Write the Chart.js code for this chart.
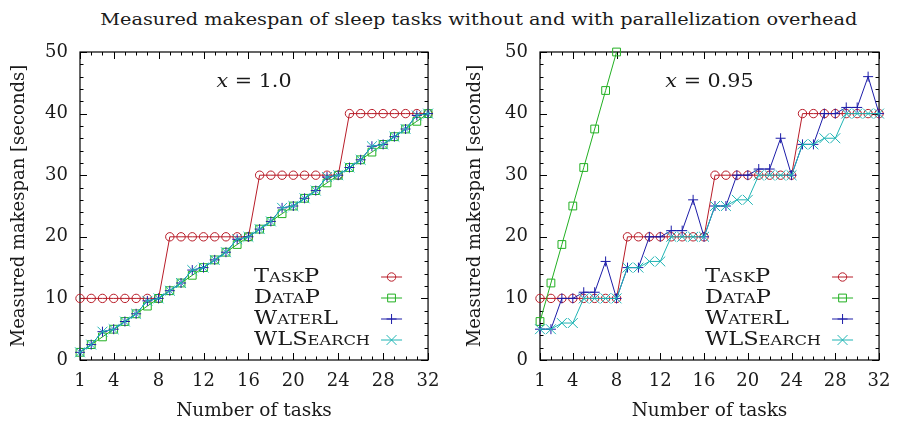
<!DOCTYPE html>
<html>
<head>
<meta charset="utf-8">
<script src="https://cdn.jsdelivr.net/npm/chart.js@4.4.0/dist/chart.umd.min.js"></script>
<style>
  body { margin: 0; background: #fff; width: 901px; height: 423px; position: relative; overflow: hidden; }
  #title { position: absolute; top: 8px; left: 100px; width: 757px; text-align: center;
           font: 17.5px "DejaVu Serif"; color: #1a1a1a; line-height: 22px; white-space: nowrap; }
  #title span { display: inline-block; transform-origin: center; }
  .box { position: absolute; top: 0; height: 423px; }
</style>
</head>
<body>
<div id="title"><span>Measured makespan of sleep tasks without and with parallelization overhead</span></div>
<div class="box" style="left:0;width:450px"><canvas id="leftChart" width="450" height="423"></canvas></div>
<div class="box" style="left:456px;width:445px"><canvas id="rightChart" width="445" height="423"></canvas></div>
<script>
// === Data ===
const tasks = [1, 2, 3, 4, 5, 6, 7, 8, 9, 10, 11, 12, 13, 14, 15, 16,
               17, 18, 19, 20, 21, 22, 23, 24, 25, 26, 27, 28, 29, 30, 31, 32];
const seriesNames = ["TaskP", "DataP", "WaterL", "WLSearch"];
const xTicks = [1, 4, 8, 12, 16, 20, 24, 28, 32];
const yTicks = [0, 10, 20, 30, 40, 50];
const xMinorStep = 1;
const yMinorStep = 2;

// x = 1.0
const taskP1 = [10, 10, 10, 10, 10, 10, 10, 10, 20, 20, 20, 20, 20, 20, 20, 20,
                30, 30, 30, 30, 30, 30, 30, 30, 40, 40, 40, 40, 40, 40, 40, 40];
const dataP1 = [1.25, 2.5, 3.75, 5, 6.25, 7.5, 8.75, 10, 11.25, 12.5, 13.75, 15, 16.25, 17.5, 18.75, 20,
                21.25, 22.5, 23.75, 25, 26.25, 27.5, 28.75, 30, 31.25, 32.5, 33.75, 35, 36.25, 37.5, 38.75, 40];
const waterL1 = [1.25, 2.5, 4.6, 5, 6.25, 7.5, 9.6, 10, 11.25, 12.5, 14.6, 15, 16.25, 17.5, 19.6, 20,
                 21.25, 22.5, 24.7, 25, 26.25, 27.5, 29.7, 30, 31.25, 32.5, 34.7, 35, 36.25, 37.5, 39.7, 40];
const wlSearch1 = [1.25, 2.5, 4.6, 5, 6.25, 7.5, 9.6, 10, 11.25, 12.5, 14.6, 15, 16.25, 17.5, 19.6, 20,
                   21.25, 22.5, 24.7, 25, 26.25, 27.5, 29.7, 30, 31.25, 32.5, 34.7, 35, 36.25, 37.5, 39.7, 40];

// x = 0.95
const taskP2 = [10, 10, 10, 10, 10, 10, 10, 10, 20, 20, 20, 20, 20, 20, 20, 20,
                30, 30, 30, 30, 30, 30, 30, 30, 40, 40, 40, 40, 40, 40, 40, 40];
const dataP2 = [6.25, 12.5, 18.75, 25, 31.25, 37.5, 43.75, 50];
const waterL2 = [5, 5, 10, 10, 11, 11, 16, 10, 15, 15, 20, 20, 21, 21, 26, 20,
                 25, 25, 30, 30, 31, 31, 36, 30, 35, 35, 40, 40, 41, 41, 46, 40];
const wlSearch2 = [5, 5, 6, 6, 10, 10, 10, 10, 15, 15, 16, 16, 20, 20, 20, 20,
                   25, 25, 26, 26, 30, 30, 30, 30, 35, 35, 36, 36, 40, 40, 40, 40];

// === Styles ===
const FONT = "DejaVu Serif";
const TEXT = "#1a1a1a";
const colors = ["#b81c28", "#22b022", "#1c1ca8", "#1fb4b4"];
const pointStyles = ["circle", "rect", "cross", "crossRot"];
const pointRadii = [4.2, 5.5, 5, 7];

// === Frame with inward ticks on all four sides ===
const frameTicks = {
  id: "frameTicks",
  beforeDatasetsDraw(chart) {
    const { ctx, chartArea: a, scales: { x, y } } = chart;
    ctx.save();
    ctx.strokeStyle = "#000";
    ctx.lineWidth = 1.2;
    ctx.strokeRect(a.left, a.top, a.width, a.height);
    ctx.lineWidth = 1;
    ctx.beginPath();
    for (let v = x.min; v <= x.max; v += xMinorStep) {
      const px = Math.round(x.getPixelForValue(v)) + 0.5;
      const len = xTicks.includes(v) ? 7 : 3.5;
      ctx.moveTo(px, a.bottom); ctx.lineTo(px, a.bottom - len);
      ctx.moveTo(px, a.top); ctx.lineTo(px, a.top + len);
    }
    for (let v = y.min; v <= y.max; v += yMinorStep) {
      const py = Math.round(y.getPixelForValue(v)) + 0.5;
      const len = yTicks.includes(v) ? 7 : 3.5;
      ctx.moveTo(a.left, py); ctx.lineTo(a.left + len, py);
      ctx.moveTo(a.right, py); ctx.lineTo(a.right - len, py);
    }
    ctx.stroke();
    ctx.restore();
  }
};

// === Legend inside the plot + "x = ..." note ===
function stretchFactor(ctx) {
  ctx.font = "small-caps 18px '" + FONT + "'";
  ctx.fontVariantCaps = "small-caps";
  return 116 / ctx.measureText("WLSearch").width;
}

const insetLegend = {
  id: "insetLegend",
  afterDraw(chart, args, opts) {
    const { ctx, chartArea: a } = chart;
    const sx = stretchFactor(ctx);
    ctx.save();
    chart.data.datasets.forEach((ds, i) => {
      const yy = a.bottom - 83 + i * 21;
      // label
      ctx.save();
      ctx.font = "small-caps 18px '" + FONT + "'";
      ctx.fontVariantCaps = "small-caps";
      ctx.fillStyle = TEXT;
      ctx.textBaseline = "middle";
      ctx.textAlign = "left";
      ctx.translate(a.right - 174, yy);
      ctx.scale(sx, 1);
      ctx.fillText(ds.label, 0, 0);
      ctx.restore();
      // sample line + marker
      ctx.strokeStyle = ds.borderColor;
      ctx.fillStyle = "rgba(0,0,0,0)";
      ctx.lineWidth = 1;
      ctx.beginPath();
      ctx.moveTo(a.right - 47, yy);
      ctx.lineTo(a.right - 26, yy);
      ctx.stroke();
      Chart.helpers.drawPoint(ctx, {
        pointStyle: ds.pointStyle, radius: ds.pointRadius, rotation: 0, borderWidth: 1
      }, a.right - 36.5, yy);
    });

    // note "x = ..."
    const cx = (a.left + a.right) / 2, cy = a.top + 30;
    ctx.fillStyle = TEXT;
    ctx.textBaseline = "middle";
    ctx.textAlign = "left";
    ctx.font = "italic 18px '" + FONT + "'";
    const wx = ctx.measureText("x").width;
    ctx.font = "18px '" + FONT + "'";
    const rest = " = " + opts.value;
    const wr = ctx.measureText(rest).width;
    const s = sx * 0.92;
    ctx.translate(cx - (wx + wr) * s / 2, cy);
    ctx.scale(s, 1);
    ctx.font = "italic 18px '" + FONT + "'";
    ctx.fillText("x", 0, 0);
    ctx.font = "18px '" + FONT + "'";
    ctx.fillText(rest, wx, 0);
    ctx.restore();
  }
};

function makeDatasets(values) {
  return values.map((vals, i) => ({
    label: seriesNames[i],
    data: vals.map((v, k) => ({ x: tasks[k], y: v })),
    borderColor: colors[i],
    backgroundColor: "rgba(0,0,0,0)",
    borderWidth: 1,
    pointStyle: pointStyles[i],
    pointRadius: pointRadii[i],
    pointBorderWidth: 1,
    pointBackgroundColor: "rgba(0,0,0,0)",
    pointBorderColor: colors[i],
    tension: 0,
    clip: 10,
    order: 4 - i
  }));
}

function makeChart(id, values, note, yWidth, padRight) {
  return new Chart(document.getElementById(id), {
    type: "line",
    data: { datasets: makeDatasets(values) },
    plugins: [frameTicks, insetLegend],
    options: {
      responsive: false,
      animation: false,
      devicePixelRatio: 1,
      layout: { padding: { top: 52, right: padRight, bottom: 0, left: 0 } },
      plugins: {
        legend: { display: false },
        tooltip: { enabled: false },
        insetLegend: { value: note }
      },
      scales: {
        x: {
          type: "linear",
          min: 1,
          max: 32,
          afterBuildTicks: (scale) => { scale.ticks = xTicks.map(v => ({ value: v })); },
          afterFit: (scale) => { scale.height = 63; },
          ticks: { padding: 10.5, autoSkip: false, maxRotation: 0, color: TEXT,
                   font: { family: FONT, size: 18 } },
          grid: { display: false, drawTicks: false },
          border: { display: false },
          title: { display: true, text: "Number of tasks", color: TEXT,
                   font: { family: FONT, size: 18.5 }, padding: { top: 0, bottom: 0.5 } }
        },
        y: {
          type: "linear",
          min: 0,
          max: 50,
          afterBuildTicks: (scale) => { scale.ticks = yTicks.map(v => ({ value: v })); },
          afterFit: (scale) => { scale.width = yWidth; },
          ticks: { padding: 12, color: TEXT, font: { family: FONT, size: 18 } },
          grid: { display: false, drawTicks: false },
          border: { display: false },
          title: { display: true, text: "Measured makespan [seconds]", color: TEXT,
                   font: { family: FONT, size: 18 }, padding: { top: 8.5, bottom: 0 } }
        }
      }
    }
  });
}

// === Initialize ===
makeChart("leftChart", [taskP1, dataP1, waterL1, wlSearch1], "1.0", 80, 18);
makeChart("rightChart", [taskP2, dataP2, waterL2, wlSearch2], "0.95", 84, 12);

// fit the page title to the reference width
const titleSpan = document.querySelector("#title span");
titleSpan.style.transform = "scaleX(" + (757 / titleSpan.getBoundingClientRect().width) + ")";
</script>
</body>
</html>
